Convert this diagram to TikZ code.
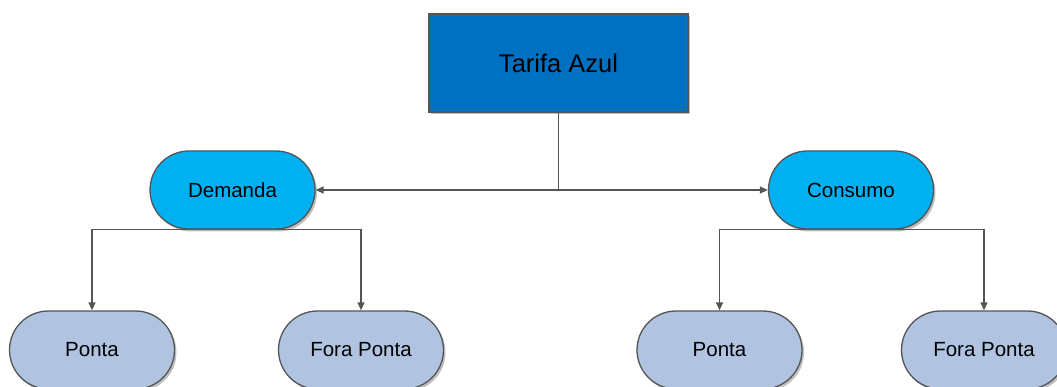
\documentclass[tikz,border=0pt]{standalone}
\usepackage{fontspec}
\setmainfont{Liberation Sans}
\usetikzlibrary{shapes.misc,arrows.meta,shadows}
\definecolor{topblue}{HTML}{0070C0}
\definecolor{midblue}{HTML}{00B0F0}
\definecolor{lowblue}{HTML}{B0C4E2}
\definecolor{edgegray}{HTML}{555555}
\tikzset{
  shade/.style={drop shadow={shadow xshift=2pt,shadow yshift=-2.5pt,opacity=0.25,fill=black}},
  topbox/.style={draw=edgegray,line width=1.3pt,fill=topblue,minimum width=259pt,minimum height=98pt,inner sep=0pt,font=\fontsize{25.5}{30}\selectfont,shade},
  pill/.style={rounded rectangle,draw=edgegray,line width=1.3pt,minimum width=165pt,minimum height=78pt,inner sep=0pt,font=\fontsize{20.5}{24}\selectfont,shade},
  midpill/.style={pill,fill=midblue},
  lowpill/.style={pill,fill=lowblue},
  conn/.style={draw=edgegray,line width=1.4pt},
  arr/.style={conn,-{Triangle[length=8pt,width=7pt]}}
}
\begin{document}
\begin{tikzpicture}[x=1pt,y=-1pt]
\useasboundingbox (0,0) rectangle (1057,387);
\clip (0,0) rectangle (1057,387);
\node[topbox] (top) at (558.5,63) {Tarifa Azul};
\node[midpill] (dem) at (232.5,190) {Demanda};
\node[midpill] (con) at (851,190) {Consumo};
\node[lowpill] (p1) at (92,350) {Ponta};
\node[lowpill] (f1) at (361,350) {Fora Ponta};
\node[lowpill] (p2) at (719.5,350) {Ponta};
\node[lowpill] (f2) at (984,350) {Fora Ponta};
\draw[arr] (top.south) |- (dem.east);
\draw[arr] (top.south) |- (con.west);
\draw[arr] (dem.south) -| (p1.north);
\draw[arr] (dem.south) -| (f1.north);
\draw[arr] (con.south) -| (p2.north);
\draw[arr] (con.south) -| (f2.north);
\end{tikzpicture}
\end{document}
